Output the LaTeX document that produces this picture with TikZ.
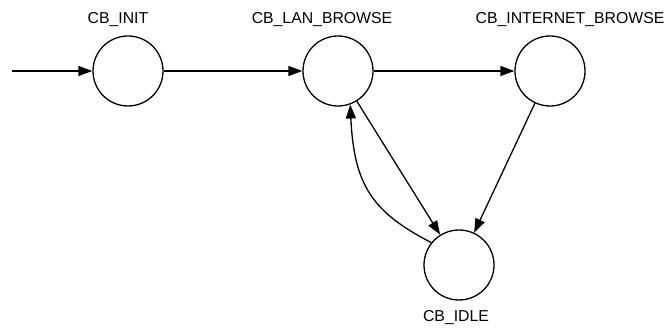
\documentclass[tikz,border=0pt]{standalone}
\usepackage{fontspec}
\setmainfont{Liberation Sans}
\usetikzlibrary{arrows.meta}
\begin{document}
\begin{tikzpicture}[x=1pt,y=-1pt,
  state/.style={circle,draw,line width=1.3pt,minimum size=70pt,inner sep=0pt},
  lbl/.style={font=\fontsize{15.8}{18}\selectfont,inner sep=0pt},
  edge/.style={line width=1.3pt,-{Triangle[length=14pt,width=10pt]}}]
\useasboundingbox (0,0) rectangle (669,328);
\node[state] (init) at (128,71) {};
\node[state] (lan) at (338,71) {};
\node[state] (inet) at (550,71) {};
\node[state] (idle) at (459,265) {};
\node[lbl] (tinit) at (118,20) {CB\_INIT};
\node[lbl] (tlan) at (322,20) {CB\_LAN\_BROWSE};
\node[lbl] (tinet) at (570,20) {CB\_INTERNET\_BROWSE};
\node[lbl] (tidle) at (456,318) {CB\_IDLE};
\coordinate (start) at (12,71);
\draw[edge] (start) -- (init);
\draw[edge] (init) -- (lan);
\draw[edge] (lan) -- (inet);
\draw[edge] (lan) -- (idle);
\draw[edge] (inet) -- (idle);
\draw[edge] (idle.141) .. controls (372,212) and (354,185) .. (lan.-70);
\end{tikzpicture}
\end{document}
